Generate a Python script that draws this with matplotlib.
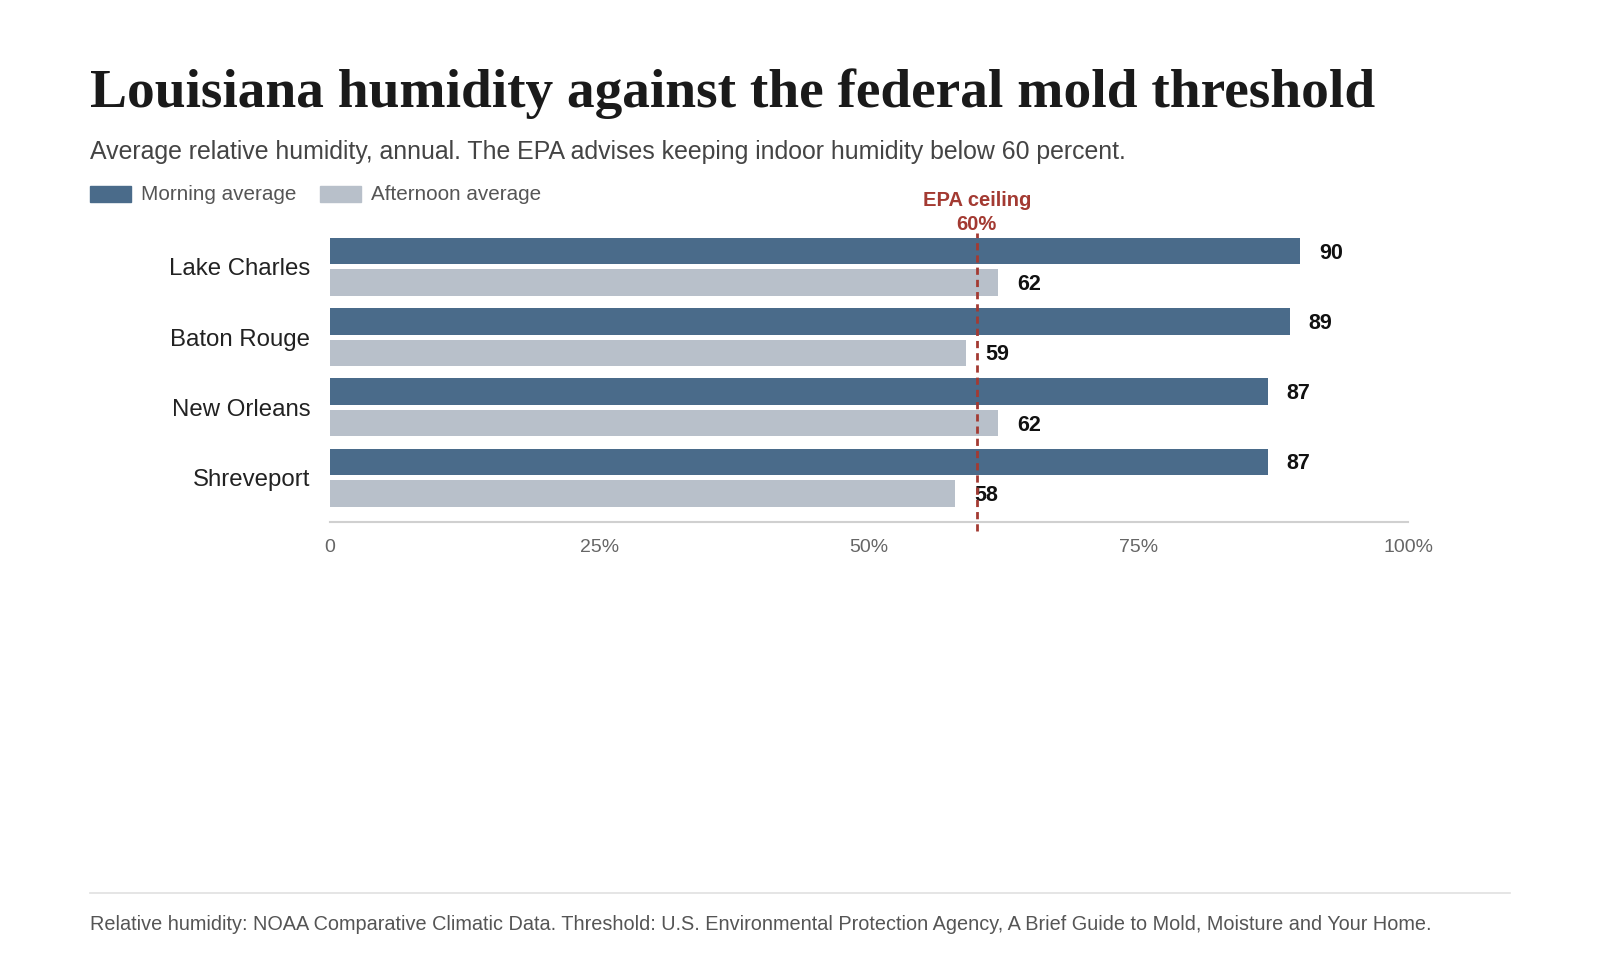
import matplotlib
matplotlib.use("Agg")
import matplotlib.pyplot as plt
import numpy as np

cities = ["Lake Charles", "Baton Rouge", "New Orleans", "Shreveport"]
morning = [90, 89, 87, 87]
afternoon = [62, 59, 62, 58]
epa_ceiling = 60
x_ticks = [0, 25, 50, 75, 100]
x_tick_labels = ["0", "25%", "50%", "75%", "100%"]

MORNING_COLOR = "#4a6b8a"
AFTERNOON_COLOR = "#b8c0ca"
EPA_COLOR = "#a33a32"

plt.rcParams['font.family'] = ['Liberation Sans', 'DejaVu Sans']

fig = plt.figure(figsize=(16, 9.6), dpi=100)
fig.patch.set_facecolor("white")

# layout measured on a 1568 x 941 view of the target
W, H = 1568, 940.8

def fx(px):
    return px / W

def fy(py):
    return 1 - py / H

# axes: 0..100 spans x 323..1380, y 228..512
ax = fig.add_axes([fx(323), fy(512), fx(1380) - fx(323), fy(228) - fy(512)])

y = np.arange(len(cities))
bar_h = 26 / 69
off = 15.5 / 69
nudge = 2 / 69
ax.barh(y - off, morning, height=bar_h, color=MORNING_COLOR)
ax.barh(y + off, afternoon, height=bar_h, color=AFTERNOON_COLOR)

for i in range(len(cities)):
    ax.text(morning[i] + 1.75, y[i] - off + nudge, str(morning[i]), ha="left", va="center",
            fontsize=15.5, fontweight="bold", color="#111111")
    ax.text(afternoon[i] + 1.75, y[i] + off + nudge, str(afternoon[i]), ha="left", va="center",
            fontsize=15.5, fontweight="bold", color="#111111")

ax.set_xlim(0, 100)
ax.set_ylim(3 + 44 / 69, -33.5 / 69)

ax.axvline(epa_ceiling, ymin=-0.028, ymax=1.0, color=EPA_COLOR, linestyle=(0, (2.6, 1.8)),
           linewidth=2, clip_on=False, zorder=5)
ax.text(epa_ceiling, (512 - 196) / 284, "EPA ceiling", transform=ax.get_xaxis_transform(),
        ha="center", va="center", fontsize=14.5, fontweight="bold", color=EPA_COLOR)
ax.text(epa_ceiling, (512 - 220) / 284, "60%", transform=ax.get_xaxis_transform(),
        ha="center", va="center", fontsize=14.5, fontweight="bold", color=EPA_COLOR)

ax.set_xticks(x_ticks)
ax.set_xticklabels(x_tick_labels, fontsize=14, color="#666666")
ax.set_yticks(y)
ax.set_yticklabels(cities, fontsize=17.3, color="#222222")
ax.tick_params(axis="x", length=0, pad=12)
ax.tick_params(axis="y", length=0, pad=14)
for side in ["top", "right", "left"]:
    ax.spines[side].set_visible(False)
ax.spines["bottom"].set_color("#d0d0d0")
ax.spines["bottom"].set_linewidth(1.5)

# title, sized to the target width
title = fig.text(fx(88), fy(105), "Louisiana humidity against the federal mold threshold",
                 fontsize=40, fontweight="bold", family="Liberation Serif", color="#1a1a1a",
                 ha="left", va="baseline")
renderer = fig.canvas.get_renderer()
tw = title.get_window_extent(renderer).width
target = (1345 - 88) / W * 1600
title.set_fontsize(40 * target / tw)

fig.text(fx(88), fy(149), "Average relative humidity, annual. The EPA advises keeping indoor humidity below 60 percent.",
         fontsize=17.9, color="#444444", ha="left", va="center")

# legend
fig.patches.append(plt.Rectangle((fx(88), fy(198)), fx(40), fy(182) - fy(198),
                                 transform=fig.transFigure, color=MORNING_COLOR))
fig.text(fx(138), fy(191), "Morning average", fontsize=14.9, color="#555555", ha="left", va="center")
fig.patches.append(plt.Rectangle((fx(314), fy(198)), fx(40), fy(182) - fy(198),
                                 transform=fig.transFigure, color=AFTERNOON_COLOR))
fig.text(fx(364), fy(191), "Afternoon average", fontsize=14.9, color="#555555", ha="left", va="center")

# footer
fig.add_artist(plt.Line2D([fx(88), fx(1480)], [fy(875), fy(875)], transform=fig.transFigure,
                          color="#e0e0e0", linewidth=1.2))
fig.text(fx(88), fy(906), "Relative humidity: NOAA Comparative Climatic Data. Threshold: U.S. Environmental Protection Agency, A Brief Guide to Mold, Moisture and Your Home.",
         fontsize=14.3, color="#555555", ha="left", va="center")

fig.savefig("out.png", dpi=100, facecolor="white")
